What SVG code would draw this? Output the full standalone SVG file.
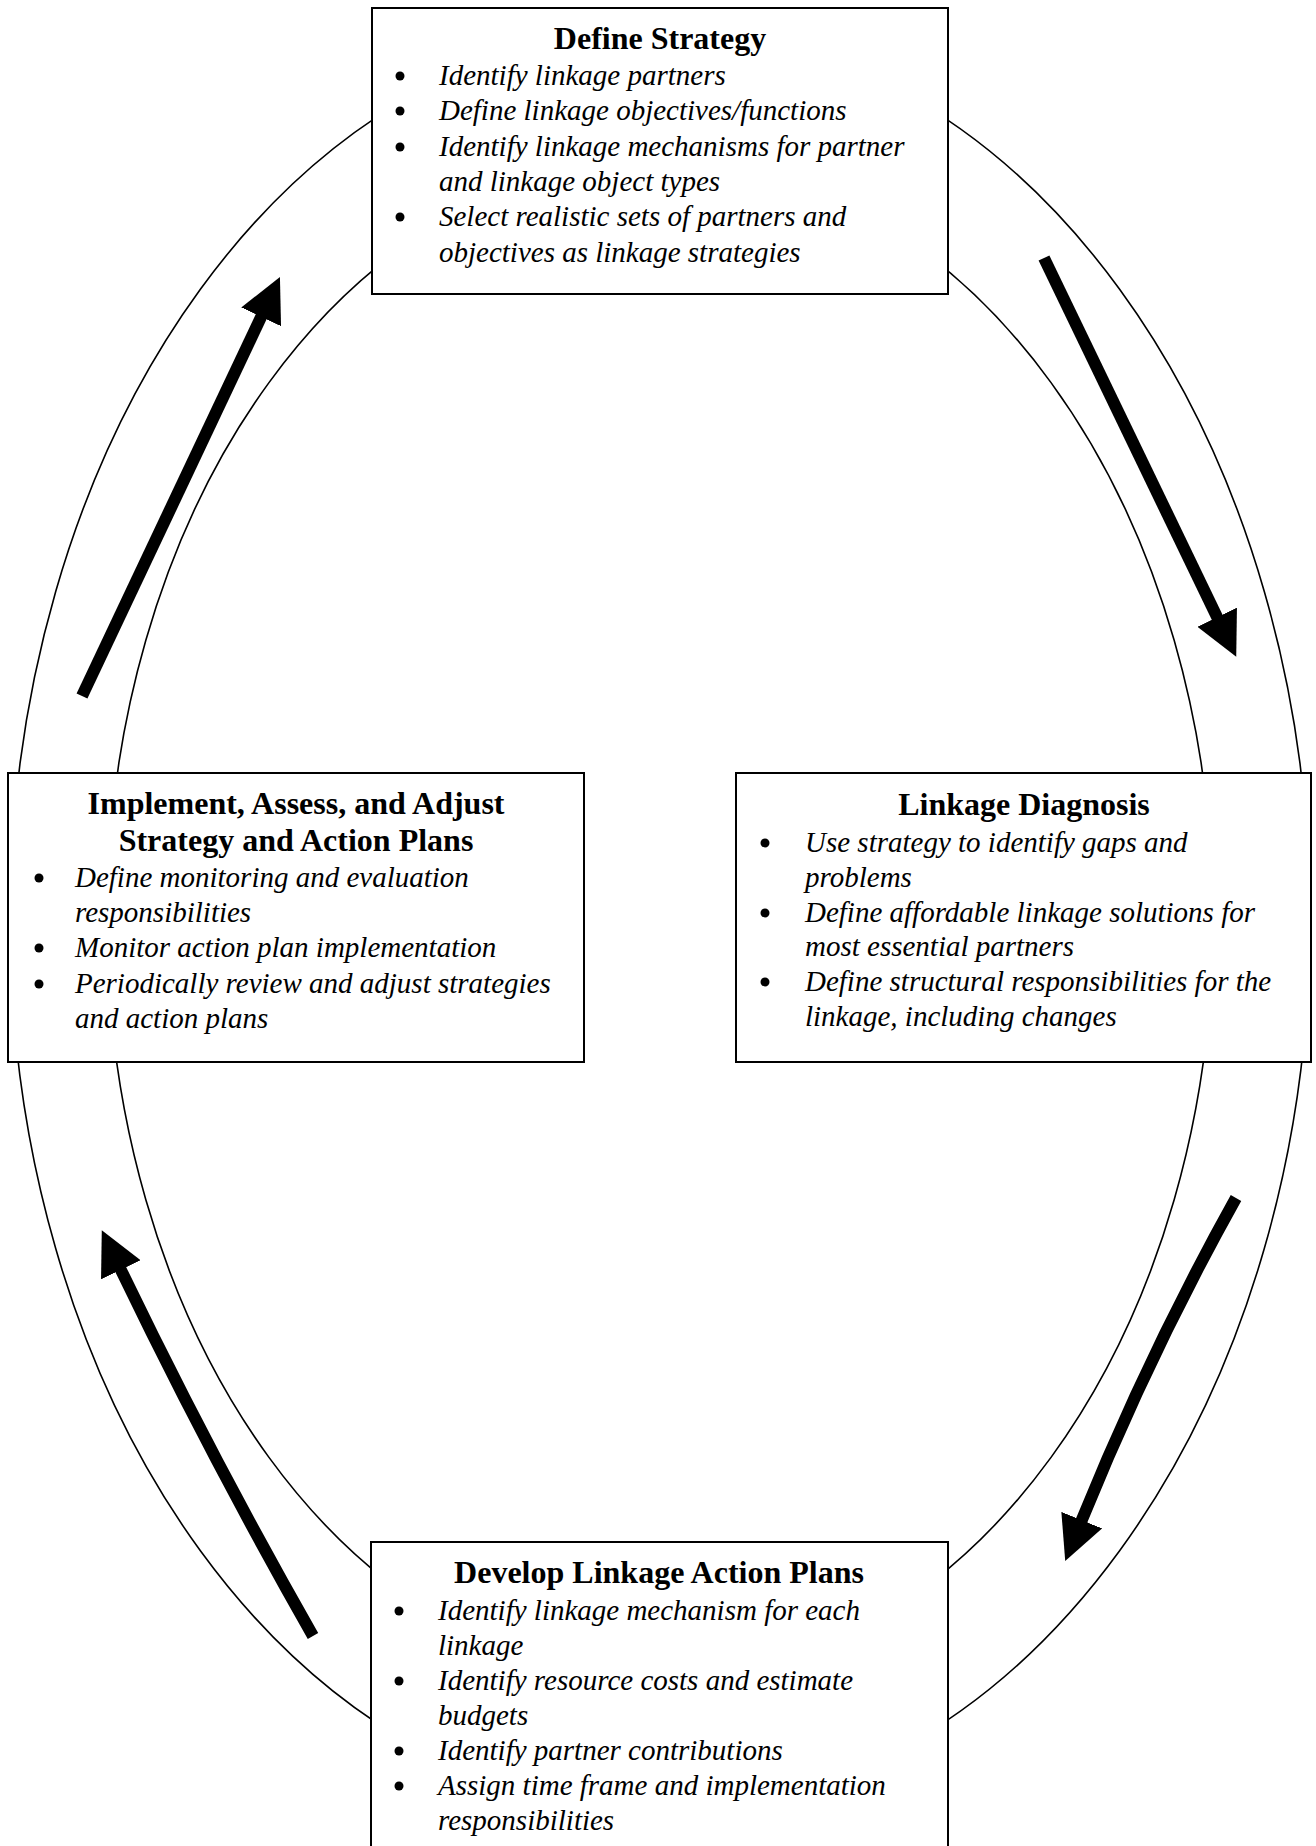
<svg xmlns="http://www.w3.org/2000/svg" width="1316" height="1846" viewBox="0 0 1316 1846">
  <style>
    .ring { fill: none; stroke: #000; stroke-width: 1.6; }
    .box { fill: #fff; stroke: #000; stroke-width: 2; }
    .title { font-family: "Liberation Serif", "Times New Roman", serif; font-weight: bold; font-size: 32px; fill: #000; text-anchor: middle; }
    .item { font-family: "Liberation Serif", "Times New Roman", serif; font-style: italic; font-size: 29px; fill: #000; }
    .dot { fill: #000; }
    .flow { fill: none; stroke: #000; stroke-width: 12; stroke-linecap: butt; }
  </style>
  <defs>
    <marker id="head" viewBox="0 -22 44 44" markerWidth="44" markerHeight="44" refX="2" refY="0" markerUnits="userSpaceOnUse" orient="auto">
      <path d="M0,-22 L44,0 L0,22 z" fill="#000"/>
    </marker>
  </defs>
  <rect width="1316" height="1846" fill="#fff"/>

  <!-- cycle band -->
  <g id="band">
    <ellipse class="ring" cx="660" cy="920" rx="650" ry="892"/>
    <ellipse class="ring" cx="660" cy="920" rx="553" ry="760"/>
  </g>

  <!-- direction arrows -->
  <g id="connectors">
    <path class="flow" d="M82,696 L262,315" marker-end="url(#head)"/>
    <path class="flow" d="M1044,258 L1218,619" marker-end="url(#head)"/>
    <path class="flow" d="M1236,1198 Q1150,1352 1081,1522" marker-end="url(#head)"/>
    <path class="flow" d="M313,1636 Q210,1455 120,1268" marker-end="url(#head)"/>
  </g>

  <g id="define-strategy">
    <rect class="box" x="372" y="8" width="576" height="286"/>
    <text class="title" x="660" y="49">Define Strategy</text>
    <circle class="dot" cx="400" cy="76" r="4.5"/>
    <text class="item" x="439" y="85">Identify linkage partners</text>
    <circle class="dot" cx="400" cy="111" r="4.5"/>
    <text class="item" x="439" y="120">Define linkage objectives/functions</text>
    <circle class="dot" cx="400" cy="147" r="4.5"/>
    <text class="item" x="439" y="156">Identify linkage mechanisms for partner</text>
    <text class="item" x="439" y="191">and linkage object types</text>
    <circle class="dot" cx="400" cy="217" r="4.5"/>
    <text class="item" x="439" y="226">Select realistic sets of partners and</text>
    <text class="item" x="439" y="262">objectives as linkage strategies</text>
  </g>

  <g id="linkage-diagnosis">
    <rect class="box" x="736" y="773" width="575" height="289"/>
    <text class="title" x="1024" y="815">Linkage Diagnosis</text>
    <circle class="dot" cx="765" cy="843" r="4.5"/>
    <text class="item" x="805" y="852">Use strategy to identify gaps and</text>
    <text class="item" x="805" y="887">problems</text>
    <circle class="dot" cx="765" cy="913" r="4.5"/>
    <text class="item" x="805" y="922">Define affordable linkage solutions for</text>
    <text class="item" x="805" y="956">most essential partners</text>
    <circle class="dot" cx="765" cy="982" r="4.5"/>
    <text class="item" x="805" y="991">Define structural responsibilities for the</text>
    <text class="item" x="805" y="1026">linkage, including changes</text>
  </g>

  <g id="develop-action-plans">
    <rect class="box" x="371" y="1542" width="577" height="320"/>
    <text class="title" x="659" y="1583">Develop Linkage Action Plans</text>
    <circle class="dot" cx="399" cy="1611" r="4.5"/>
    <text class="item" x="438" y="1620">Identify linkage mechanism for each</text>
    <text class="item" x="438" y="1655">linkage</text>
    <circle class="dot" cx="399" cy="1681" r="4.5"/>
    <text class="item" x="438" y="1690">Identify resource costs and estimate</text>
    <text class="item" x="438" y="1725">budgets</text>
    <circle class="dot" cx="399" cy="1751" r="4.5"/>
    <text class="item" x="438" y="1760">Identify partner contributions</text>
    <circle class="dot" cx="399" cy="1786" r="4.5"/>
    <text class="item" x="438" y="1795">Assign time frame and implementation</text>
    <text class="item" x="438" y="1830">responsibilities</text>
  </g>

  <g id="implement-assess-adjust">
    <rect class="box" x="8" y="773" width="576" height="289"/>
    <text class="title" x="296" y="814">Implement, Assess, and Adjust</text>
    <text class="title" x="296" y="851">Strategy and Action Plans</text>
    <circle class="dot" cx="39" cy="878" r="4.5"/>
    <text class="item" x="75" y="887">Define monitoring and evaluation</text>
    <text class="item" x="75" y="922">responsibilities</text>
    <circle class="dot" cx="39" cy="948" r="4.5"/>
    <text class="item" x="75" y="957">Monitor action plan implementation</text>
    <circle class="dot" cx="39" cy="984" r="4.5"/>
    <text class="item" x="75" y="993">Periodically review and adjust strategies</text>
    <text class="item" x="75" y="1028">and action plans</text>
  </g>
</svg>
